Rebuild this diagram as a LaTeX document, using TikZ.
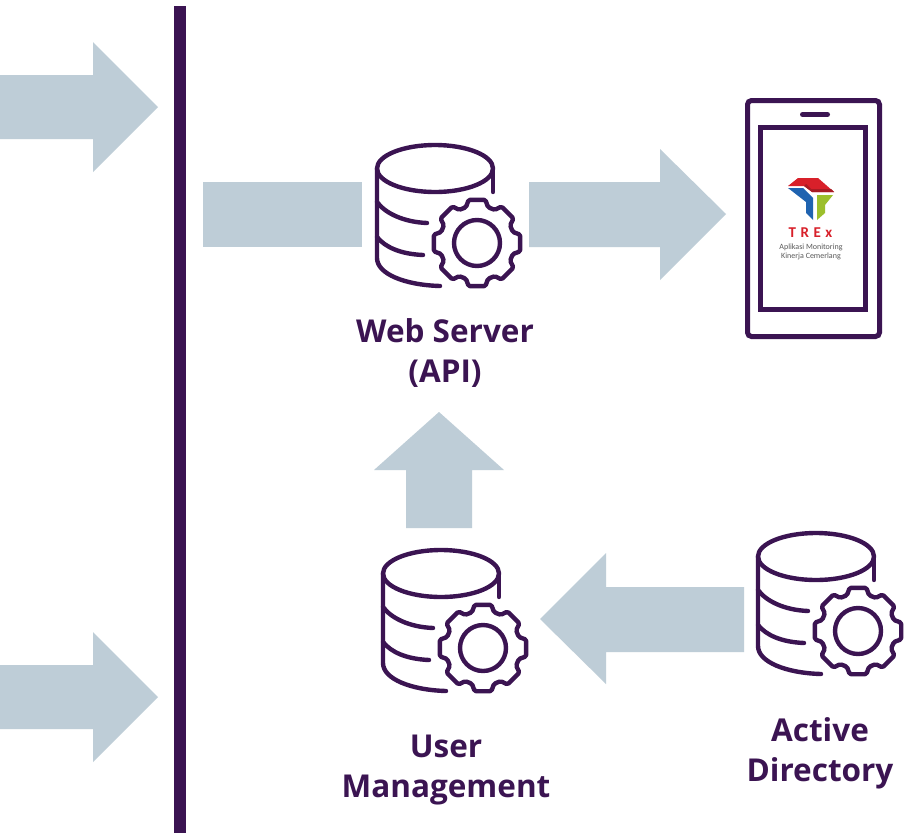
\documentclass[tikz,border=0pt]{standalone}
\usepackage{fontspec}
\setmainfont{Open Sans}
\newfontfamily\smallfont{Carlito}
\definecolor{ink}{HTML}{3B1452}
\definecolor{blockc}{HTML}{BECDD7}
\definecolor{logored}{HTML}{D8202A}
\definecolor{logodark}{HTML}{A81C24}
\definecolor{logoblue}{HTML}{1F63B0}
\definecolor{logogreen}{HTML}{9CBF2C}
\tikzset{
  x=1pt,y=-1pt,
  blockarrow/.style={fill=blockc,draw=none},
  iconline/.style={draw=ink,line width=4.4pt,line cap=round,line join=round},
  label/.style={text=ink,font=\bfseries\fontsize{31.5}{40}\selectfont,align=center,inner sep=0pt},
  dbicon/.pic={
    \draw[iconline] (435,168.5) ellipse [x radius=58,y radius=23.5];
    \draw[iconline] (493,168.5) -- (493,192);
    \draw[iconline] (377,168.5) -- (377,258) .. controls (377,274) and (405,285) .. (440,286);
    \draw[iconline] (377,202) .. controls (385,213) and (403,222) .. (427,223);
    \draw[iconline] (377,237) .. controls (385,247) and (400,254) .. (423,255);
    \draw[iconline] (477,243) circle [radius=23];
    \draw[iconline,rounded corners=1.5pt,shift={(477,243)}]
      (73:37.5) -- (79:44) -- (101:44) -- (107:37.5)
      -- (118:37.5) -- (124:44) -- (146:44) -- (152:37.5)
      -- (163:37.5) -- (169:44) -- (191:44) -- (197:37.5)
      -- (208:37.5) -- (214:44) -- (236:44) -- (242:37.5)
      -- (253:37.5) -- (259:44) -- (281:44) -- (287:37.5)
      -- (298:37.5) -- (304:44) -- (326:44) -- (332:37.5)
      -- (343:37.5) -- (349:44) -- (11:44) -- (17:37.5)
      -- (28:37.5) -- (34:44) -- (56:44) -- (62:37.5) -- cycle;
  }
}
\begin{document}
\begin{tikzpicture}
\useasboundingbox (0,0) rectangle (904,833);
\fill[white] (0,0) rectangle (904,833);
% block arrows
\fill[blockarrow] (0,75) -- (93,75) -- (93,42) -- (158,107) -- (93,172) -- (93,139) -- (0,139) -- cycle;
\fill[blockarrow] (0,665) -- (93,665) -- (93,632) -- (158,697) -- (93,762) -- (93,729) -- (0,729) -- cycle;
\fill[blockarrow] (203,182) rectangle (362,247);
\fill[blockarrow] (529,182) -- (660,182) -- (660,149) -- (726,214) -- (660,280) -- (660,247) -- (529,247) -- cycle;
\fill[blockarrow] (406,528) -- (406,470) -- (374,470) -- (439,412) -- (504,470) -- (472,470) -- (472,528) -- cycle;
\fill[blockarrow] (744,587) -- (606,587) -- (606,553) -- (540,619) -- (606,684) -- (606,652) -- (744,652) -- cycle;
% divider
\fill[ink] (174,6) rectangle (186,833);
% icons
\pic at (0,0) {dbicon};
\pic at (6,405) {dbicon};
\pic at (381,388) {dbicon};
% phone
\draw[ink,line width=5pt,rounded corners=4pt] (747.5,100.5) rectangle (879.5,336.5);
\draw[ink,line width=5pt] (760.5,127.5) rectangle (865.5,309.5);
\draw[ink,line width=5pt,line cap=round] (802.5,114.5) -- (827.5,114.5);
% logo
\fill[logored] (788,186) -- (798,178) -- (818,178) -- (834,192) -- (812,192) -- (804,186) -- cycle;
\fill[logodark] (804,186) -- (812,192) -- (834,192) -- (831,189) -- (811,189) -- (806,184) -- cycle;
\fill[logoblue] (788,188) -- (803,188) -- (813,198) -- (813,220) -- (806,213) -- (806,202) -- cycle;
\fill[logogreen] (817,195) -- (833,195) -- (825,205) -- (825,213) -- (817,220) -- cycle;
\node[text=logored,inner sep=0pt,font=\smallfont\bfseries\fontsize{15}{15}\selectfont] (trex) at (810.5,233) {T\kern4.5pt R\kern4.5pt E\kern4.5pt x};
\node[text=black!65,inner sep=0pt,align=center,font=\smallfont\fontsize{8}{9}\selectfont] (apptext) at (811,251.5) {Aplikasi Monitoring\\Kinerja Cemerlang};
% labels
\node[label] (web) at (445,353) {Web Server\\(API)};
\node[label] (um) at (446,770) {User\\Management};
\node[label] (ad) at (820,753) {Active\\Directory};
\end{tikzpicture}
\end{document}
